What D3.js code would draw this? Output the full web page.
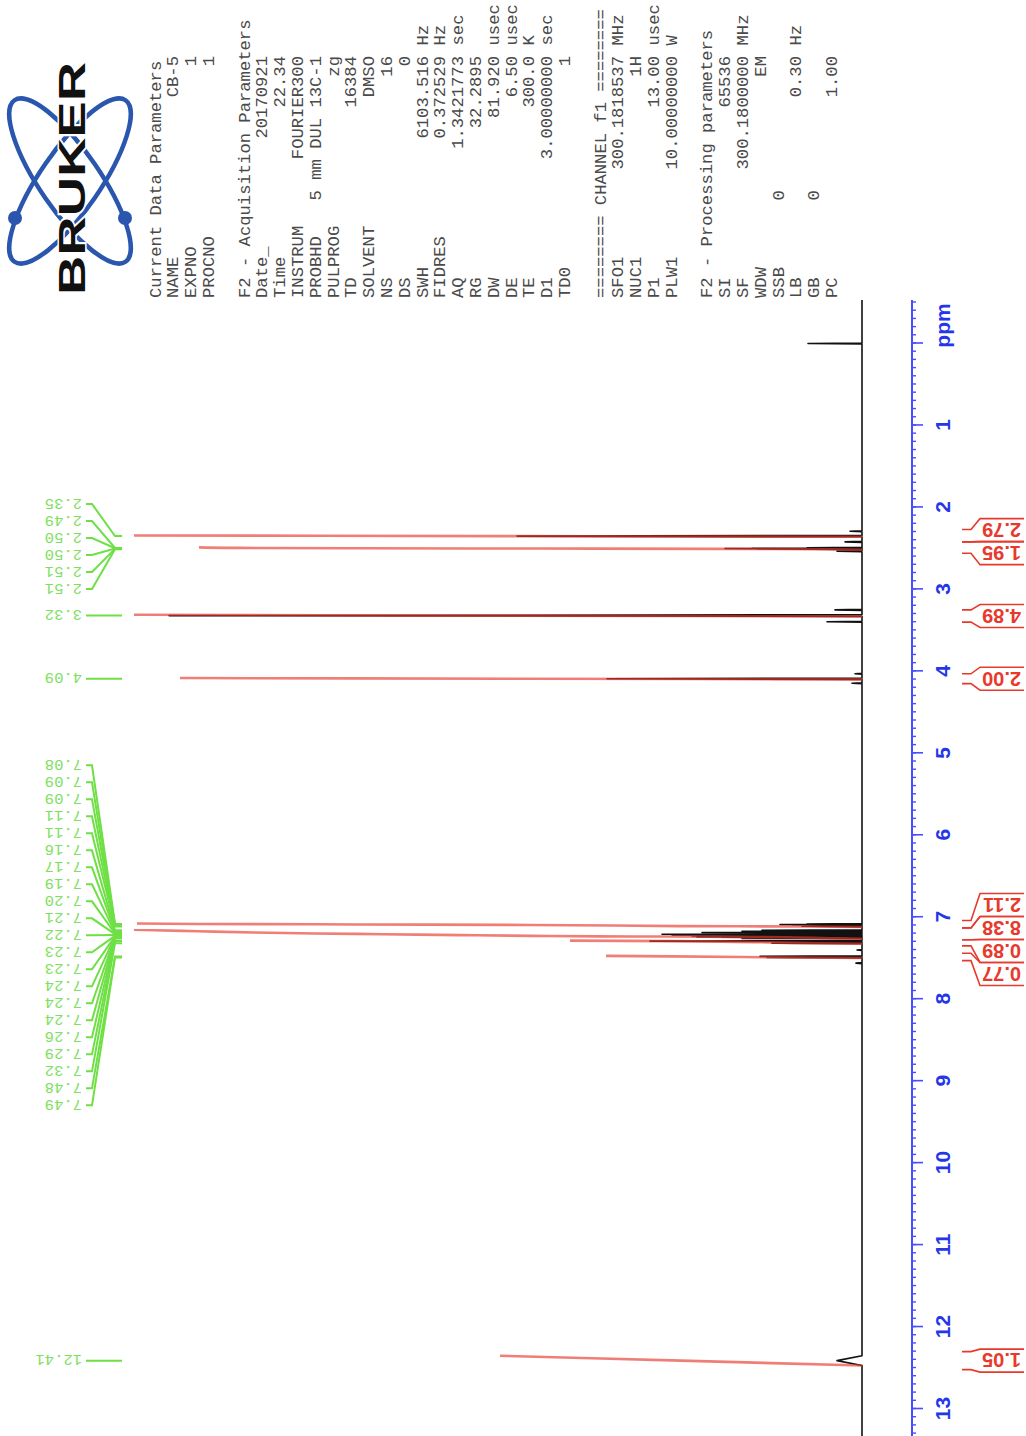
<!DOCTYPE html>
<html>
<head>
<meta charset="utf-8">
<script src="https://cdn.jsdelivr.net/npm/d3@7"></script>
<style>
  body { margin: 0; background: #fff; }
  svg { display: block; }
  text { white-space: pre; }
</style>
</head>
<body>
<div id="spectrum"></div>
<script>
// ---------------- data ----------------
// labelled peaks (ppm, intensity in arbitrary units)
const peakPpm = [2.350, 2.494, 2.498, 2.502, 2.506, 2.510, 3.320, 4.090,
  7.082, 7.088, 7.094, 7.108, 7.114, 7.158, 7.171, 7.187, 7.198, 7.207, 7.218,
  7.227, 7.233, 7.236, 7.240, 7.244, 7.258, 7.291, 7.318, 7.478, 7.492, 12.410];
const peakHeight = [345, 55, 110, 137, 105, 50, 693, 255,
  55, 82, 70, 60, 50, 100, 120, 160, 140, 200, 190,
  170, 160, 150, 165, 140, 120, 212, 90, 102, 95, 25];
const peakHalfWidth = [0.008, 0.006, 0.006, 0.006, 0.006, 0.006, 0.010, 0.008,
  0.005, 0.005, 0.005, 0.005, 0.005, 0.005, 0.005, 0.005, 0.005, 0.005, 0.005,
  0.005, 0.005, 0.005, 0.005, 0.005, 0.005, 0.006, 0.006, 0.006, 0.006, 0.060];

// unlabelled lines (TMS, satellites)
const smallPpm = [0.000, 2.290, 2.420, 2.535, 3.250, 3.395, 4.030, 4.145, 7.400, 7.560];
const smallHeight = [54, 12, 17, 25, 27, 35, 7, 10, 5, 6];

// integrals
const integralValue = [2.79, 1.95, 4.89, 2.00, 2.11, 8.38, 0.89, 0.77, 1.05];
const integralFrom = [2.42, 2.56, 3.40, 4.15, 7.13, 7.275, 7.35, 7.53, 12.52];
const integralTo = [2.27, 2.42, 3.25, 4.03, 7.04, 7.13, 7.275, 7.44, 12.30];
const integralTop = [728, 663, 728, 682, 725, 728, 292, 256, 362];

const ppmTicks = d3.range(0, 14);

// parameter listing
const currentParams = [["NAME", "CB-5", ""], ["EXPNO", "1", ""], ["PROCNO", "1", ""]];
const acqParams = [["Date_", "20170921", ""], ["Time", "22.34", ""], ["INSTRUM", "FOURIER300", ""],
  ["PROBHD", "5 mm DUL 13C-1", ""], ["PULPROG", "zg", ""], ["TD", "16384", ""],
  ["SOLVENT", "DMSO", ""], ["NS", "16", ""], ["DS", "0", ""], ["SWH", "6103.516", "Hz"],
  ["FIDRES", "0.372529", "Hz"], ["AQ", "1.3421773", "sec"], ["RG", "32.2895", ""],
  ["DW", "81.920", "usec"], ["DE", "6.50", "usec"], ["TE", "300.0", "K"],
  ["D1", "3.00000000", "sec"], ["TD0", "1", ""]];
const channelParams = [["SFO1", "300.1818537", "MHz"], ["NUC1", "1H", ""],
  ["P1", "13.00", "usec"], ["PLW1", "10.00000000", "W"]];
const procParams = [["SI", "65536", ""], ["SF", "300.1800000", "MHz"], ["WDW", "EM", ""],
  ["SSB", "0             ", ""], ["LB", "0.30", "Hz"], ["GB", "0             ", ""], ["PC", "1.00", ""]];

// ---------------- layout ----------------
const W = 1026, H = 1436;
const sans = "'Liberation Sans', Arial, sans-serif";
const mono = "'Liberation Mono', 'Courier New', monospace";
const blue = "#4a4cff", blueText = "#2436e8";
const red = "#e8392d", green = "#6ee045";

const svg = d3.select("#spectrum").append("svg")
  .attr("width", W)
  .attr("height", H);
svg.append("rect").attr("width", W).attr("height", H).attr("fill", "#fff");

// the plot is laid out as a normal landscape Bruker sheet, then turned by -90deg
const page = svg.append("g")
  .attr("transform", `translate(0,${H}) rotate(-90)`);

const x = d3.scaleLinear().domain([13, 0]).range([27, 1092.5]);
const y = d3.scaleLinear().domain([0, 728]).range([862, 134]);
const axisY = 912;

// ---------------- spectrum ----------------
const allPeaks = peakPpm.map((p, i) => ({ p, h: peakHeight[i], w: peakHalfWidth[i] }))
  .concat(smallPpm.map((p, i) => ({ p, h: smallHeight[i], w: 0.006 })))
  .sort((a, b) => b.p - a.p);

const specPts = [[13.33, 0]];
allPeaks.forEach(d => {
  specPts.push([d.p + d.w, 0], [d.p, d.h], [d.p - d.w, 0]);
});
specPts.push([-0.53, 0]);

const line = d3.line().x(d => x(d[0])).y(d => y(d[1]));

page.append("path")
  .attr("d", line(specPts))
  .attr("fill", "none")
  .attr("stroke", "#111")
  .attr("stroke-width", 1.6)
  .attr("stroke-linejoin", "round");

// ---------------- integrals ----------------
const intLine = d3.line().curve(d3.curveMonotoneX).x(d => x(d[0])).y(d => y(d[1]));

integralValue.forEach((v, r) => {
  const inside = peakPpm.map((p, i) => ({ p, h: peakHeight[i], w: peakHalfWidth[i] }))
    .filter(d => d.p <= integralFrom[r] && d.p >= integralTo[r])
    .sort((a, b) => b.p - a.p);
  const total = d3.sum(inside, d => d.h);
  const top = integralTop[r];
  const pts = [[inside[0].p + inside[0].w, 0]];
  let cum = 0;
  inside.forEach(d => {
    cum += d.h;
    pts.push([d.p, (cum - d.h / 2) / total * top]);
  });
  const last = inside[inside.length - 1];
  pts.push([last.p - last.w, top]);
  page.append("path")
    .attr("d", intLine(pts))
    .attr("fill", "none")
    .attr("stroke", red)
    .attr("stroke-opacity", 0.65)
    .attr("stroke-width", 2.6);
});

// ---------------- label spreading ----------------
function spread(targets, gap) {
  const order = targets.map((t, i) => i).sort((a, b) => targets[a] - targets[b]);
  const clusters = [];
  order.forEach(i => {
    clusters.push({ items: [i], sum: targets[i] });
    while (clusters.length > 1) {
      const b = clusters[clusters.length - 1], a = clusters[clusters.length - 2];
      const aStart = a.sum / a.items.length, bStart = b.sum / b.items.length;
      if (bStart - (aStart + (a.items.length - 1) * gap) >= gap) break;
      a.sum = a.sum + b.sum - b.items.length * a.items.length * gap;
      a.items = a.items.concat(b.items);
      clusters.pop();
    }
  });
  const pos = new Array(targets.length);
  clusters.forEach(c => {
    const start = c.sum / c.items.length;
    c.items.forEach((i, k) => { pos[i] = start + k * gap; });
  });
  return pos;
}

// ---------------- peak labels (top) ----------------
const labelX = spread(peakPpm.map(p => x(p)), 17);
const peakLabels = page.append("g");
peakPpm.forEach((p, i) => {
  const lx = labelX[i], px = x(p);
  peakLabels.append("path")
    .attr("d", `M${lx},86 L${lx},92 L${px},115 L${px},122`)
    .attr("fill", "none")
    .attr("stroke", green)
    .attr("stroke-width", 2);
  peakLabels.append("text")
    .attr("transform", `translate(${lx},82) rotate(-90)`)
    .attr("dy", "0.35em")
    .attr("font-family", mono)
    .attr("font-size", 15.5)
    .attr("fill", "#7ee060")
    .text(p.toFixed(2));
});

// ---------------- integral labels (below axis) ----------------
const intCenters = spread(integralFrom.map((f, r) => x((f + integralTo[r]) / 2)), 23);
const intLabels = page.append("g");
integralValue.forEach((v, r) => {
  const cx = intCenters[r];
  const a = x(integralFrom[r]), b = x(integralTo[r]);
  intLabels.append("path")
    .attr("d", `M${a},962 L${a},971 L${cx - 11.5},980 L${cx - 11.5},1024`)
    .attr("fill", "none").attr("stroke", red).attr("stroke-width", 1.6);
  intLabels.append("path")
    .attr("d", `M${b},962 L${b},971 L${cx + 11.5},980 L${cx + 11.5},1024`)
    .attr("fill", "none").attr("stroke", red).attr("stroke-width", 1.6);
  intLabels.append("text")
    .attr("transform", `translate(${cx},1021) rotate(-90)`)
    .attr("dy", "0.36em")
    .attr("font-family", sans)
    .attr("font-weight", "bold")
    .attr("font-size", 20)
    .attr("fill", red)
    .text(v.toFixed(2));
});

// ---------------- ppm axis ----------------
const axisG = page.append("g").attr("transform", `translate(0,${axisY})`);

axisG.append("line")
  .attr("x1", x(13.33)).attr("x2", x(-0.53))
  .attr("stroke", blue).attr("stroke-width", 2);

axisG.append("g")
  .call(d3.axisBottom(x)
    .tickValues(d3.range(-5, 134).map(d => d / 10))
    .tickSize(4)
    .tickFormat(""))
  .call(g => g.select(".domain").remove())
  .call(g => g.selectAll("line").attr("stroke", blue).attr("stroke-width", 1.4));

axisG.append("g")
  .call(d3.axisBottom(x)
    .tickValues(ppmTicks)
    .tickSize(11)
    .tickPadding(12)
    .tickFormat(d => d === 0 ? "" : d))
  .call(g => g.select(".domain").remove())
  .call(g => g.selectAll("line").attr("stroke", blue).attr("stroke-width", 1.6))
  .call(g => g.selectAll("text")
    .attr("fill", blueText)
    .attr("font-family", sans)
    .attr("font-weight", "bold")
    .attr("font-size", 21));

axisG.append("text")
  .attr("x", x(-0.22))
  .attr("y", 23)
  .attr("dy", "0.71em")
  .attr("text-anchor", "middle")
  .attr("fill", blueText)
  .attr("font-family", sans)
  .attr("font-weight", "bold")
  .attr("font-size", 21)
  .text("ppm");

// ---------------- parameter block ----------------
const rows = [["Current Data Parameters"]].concat(currentParams, [[""]],
  [["F2 - Acquisition Parameters"]], acqParams, [[""]],
  [["======== CHANNEL f1 ========"]], channelParams, [[""]],
  [["F2 - Processing parameters"]], procParams);

const params = page.append("g")
  .attr("font-family", mono)
  .attr("font-size", 17.2)
  .attr("fill", "#4a4a4a");

rows.forEach((row, i) => {
  const by = 155 + 17.8 * i + 5.5;
  if (!row[0]) return;
  params.append("text").attr("x", 1138).attr("y", by).text(row[0]);
  if (row.length > 1) {
    params.append("text").attr("x", 1380).attr("y", by)
      .attr("text-anchor", "end").text(row[1]);
    if (row[2]) params.append("text").attr("x", 1390.5).attr("y", by).text(row[2]);
  }
});

// ---------------- Bruker logo ----------------
const logo = svg.append("g");
[55.5, -55.5].forEach(a => {
  logo.append("ellipse")
    .attr("cx", 70).attr("cy", 181)
    .attr("rx", 98).attr("ry", 30)
    .attr("transform", `rotate(${a},70,181)`)
    .attr("fill", "none")
    .attr("stroke", "#2a56ad")
    .attr("stroke-width", 4.5);
});
[[15, 218], [125, 218]].forEach(c => {
  logo.append("circle").attr("cx", c[0]).attr("cy", c[1]).attr("r", 7).attr("fill", "#2a56ad");
});
logo.append("text")
  .attr("transform", "translate(85,178.5) rotate(-90)")
  .attr("text-anchor", "middle")
  .attr("font-family", sans)
  .attr("font-weight", "bold")
  .attr("font-size", 37)
  .attr("textLength", 233)
  .attr("lengthAdjust", "spacingAndGlyphs")
  .attr("fill", "#111")
  .attr("stroke", "#fff")
  .attr("stroke-width", 3)
  .attr("paint-order", "stroke")
  .text("BRUKER");
</script>
</body>
</html>
